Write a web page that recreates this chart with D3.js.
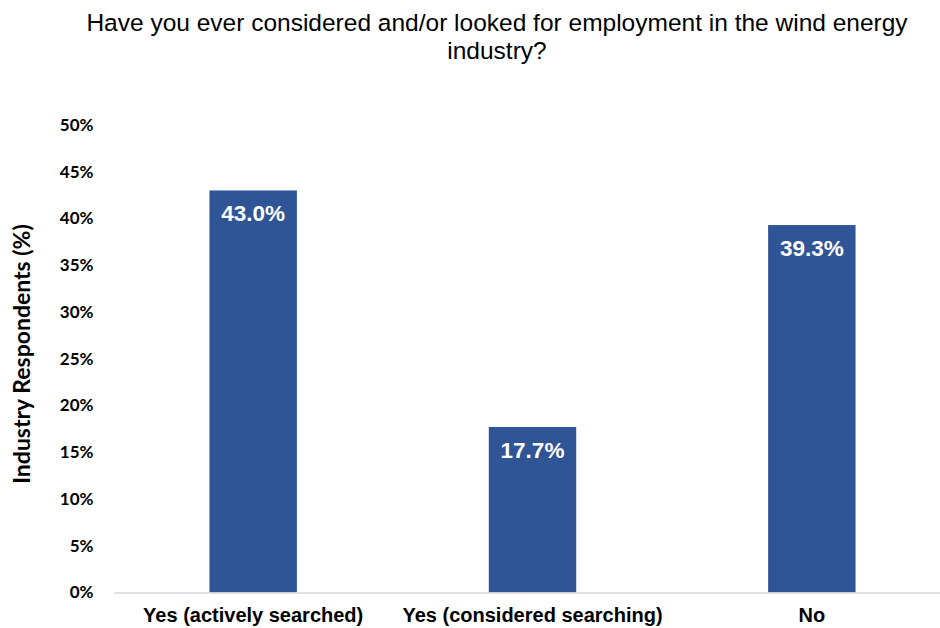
<!DOCTYPE html>
<html>
<head>
<meta charset="utf-8">
<script src="https://cdn.jsdelivr.net/npm/d3@7"></script>
<style>
  html, body { margin: 0; padding: 0; background: #fff; }
  svg { display: block; }
</style>
</head>
<body>
<svg id="chart" width="940" height="628"></svg>
<script>
const categories = ["Yes (actively searched)", "Yes (considered searching)", "No"];
const values = [43.0, 17.7, 39.3];
const yTicks = [0, 5, 10, 15, 20, 25, 30, 35, 40, 45, 50];
const titleLines = ["Have you ever considered and/or looked for employment in the wind energy", "industry?"];
const yLabel = "Industry Respondents (%)";

const svg = d3.select("#chart");
const W = 940, H = 628;
const margin = { left: 113.5, right: -11.5, top: 125, bottom: 35.5 };

const x = d3.scaleBand()
  .domain(categories)
  .range([margin.left, W - margin.right])
  .paddingInner(0.687)
  .paddingOuter(0.3435);

const y = d3.scaleLinear()
  .domain([0, 50])
  .range([H - margin.bottom, margin.top]);

// Title
svg.append("g").selectAll("text")
  .data(titleLines)
  .join("text")
  .attr("x", 497)
  .attr("y", (d, i) => 31 + i * 28)
  .attr("text-anchor", "middle")
  .attr("font-family", "Liberation Sans, Arial, sans-serif")
  .attr("font-size", 24.5)
  .attr("fill", "#000")
  .text(d => d);

// Bars
svg.append("g").selectAll("rect")
  .data(values)
  .join("rect")
  .attr("x", (d, i) => x(categories[i]))
  .attr("y", d => y(d))
  .attr("width", x.bandwidth())
  .attr("height", d => y(0) - y(d))
  .attr("fill", "#2F5597");

// Value labels
svg.append("g").selectAll("text")
  .data(values)
  .join("text")
  .attr("x", (d, i) => x(categories[i]) + x.bandwidth() / 2)
  .attr("y", d => y(d) + 31)
  .attr("text-anchor", "middle")
  .attr("font-family", "Liberation Sans, Arial, sans-serif")
  .attr("font-weight", "bold")
  .attr("font-size", 22.5)
  .attr("fill", "#fff")
  .text(d => d.toFixed(1) + "%");

// X axis
const xAxis = svg.append("g")
  .attr("transform", `translate(0,${y(0)})`)
  .call(d3.axisBottom(x).tickSize(0).tickPadding(15));
xAxis.select(".domain").attr("stroke", "#d9d9d9").attr("stroke-width", 1.5);
xAxis.selectAll("text")
  .attr("font-family", "Liberation Sans, Arial, sans-serif")
  .attr("font-weight", "bold")
  .attr("font-size", 20)
  .attr("fill", "#000");

// Y axis
const yAxis = svg.append("g")
  .attr("transform", `translate(${margin.left},0)`)
  .call(d3.axisLeft(y).tickValues(yTicks).tickFormat(d => d + "%").tickSize(0).tickPadding(20));
yAxis.select(".domain").remove();
yAxis.selectAll("text")
  .attr("font-family", "Lato, sans-serif")
  .attr("font-weight", "bold")
  .attr("font-size", 17)
  .attr("fill", "#000");

// Y label
svg.append("text")
  .attr("transform", `translate(30,354) rotate(-90)`)
  .attr("text-anchor", "middle")
  .attr("font-family", "Lato, sans-serif")
  .attr("font-weight", "bold")
  .attr("font-size", 23)
  .attr("fill", "#000")
  .text(yLabel);
</script>
</body>
</html>
